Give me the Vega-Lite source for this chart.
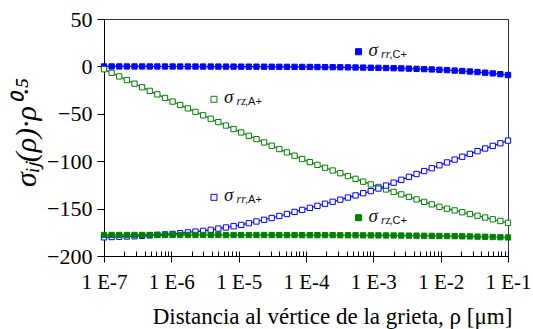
{
  "$schema": "https://vega.github.io/schema/vega-lite/v6.json",
  "width": 404,
  "height": 237,
  "autosize": "none",
  "padding": {"left": 104, "top": 19, "right": 25, "bottom": 73},
  "background": "white",
  "config": {
    "font": "Liberation Serif",
    "style": {"guide-label": {"font": "Liberation Serif"}, "guide-title": {"font": "Liberation Serif"}},
    "view": {"stroke": "#333333", "strokeWidth": 1},
    "axis": {
      "labelFont": "Liberation Serif",
      "titleFont": "Liberation Serif",
      "labelColor": "#000000",
      "titleColor": "#000000",
      "domainColor": "#000000",
      "tickColor": "#000000",
      "grid": false,
      "titleFontWeight": "normal"
    }
  },
  "datasets": {
    "curvas": [
      {"rho": 1e-7, "rr_C": -0.04, "rz_A": -3.0, "rr_A": -180.3, "rz_C": -177.8},
      {"rho": 1.298e-7, "rr_C": -0.04, "rz_A": -6.8, "rr_A": -180.0, "rz_C": -177.8},
      {"rho": 1.684e-7, "rr_C": -0.04, "rz_A": -10.6, "rr_A": -179.7, "rz_C": -177.8},
      {"rho": 2.186e-7, "rr_C": -0.05, "rz_A": -14.4, "rr_A": -179.45, "rz_C": -177.8},
      {"rho": 2.837e-7, "rr_C": -0.06, "rz_A": -18.2, "rr_A": -179.2, "rz_C": -177.8},
      {"rho": 3.681e-7, "rr_C": -0.06, "rz_A": -22.0, "rr_A": -178.75, "rz_C": -177.8},
      {"rho": 4.777e-7, "rr_C": -0.07, "rz_A": -25.8, "rr_A": -178.25, "rz_C": -177.8},
      {"rho": 6.202e-7, "rr_C": -0.08, "rz_A": -29.5, "rr_A": -177.7, "rz_C": -177.8},
      {"rho": 8.048e-7, "rr_C": -0.08, "rz_A": -33.3, "rr_A": -177.2, "rz_C": -177.8},
      {"rho": 1.0445e-6, "rr_C": -0.09, "rz_A": -37.1, "rr_A": -176.7, "rz_C": -177.8},
      {"rho": 1.3555e-6, "rr_C": -0.10, "rz_A": -40.7, "rr_A": -175.9, "rz_C": -177.8},
      {"rho": 1.7592e-6, "rr_C": -0.11, "rz_A": -44.3, "rr_A": -175.1, "rz_C": -177.8},
      {"rho": 2.283e-6, "rr_C": -0.13, "rz_A": -48.0, "rr_A": -174.3, "rz_C": -177.8},
      {"rho": 2.9628e-6, "rr_C": -0.14, "rz_A": -51.6, "rr_A": -173.5, "rz_C": -177.8},
      {"rho": 3.8451e-6, "rr_C": -0.16, "rz_A": -55.2, "rr_A": -172.4, "rz_C": -177.8},
      {"rho": 4.9898e-6, "rr_C": -0.17, "rz_A": -58.8, "rr_A": -171.1, "rz_C": -177.8},
      {"rho": 6.4764e-6, "rr_C": -0.19, "rz_A": -62.4, "rr_A": -169.9, "rz_C": -177.9},
      {"rho": 8.4044e-6, "rr_C": -0.21, "rz_A": -66.1, "rr_A": -168.6, "rz_C": -177.9},
      {"rho": 1.0907e-5, "rr_C": -0.24, "rz_A": -69.7, "rr_A": -167.2, "rz_C": -177.9},
      {"rho": 1.4155e-5, "rr_C": -0.26, "rz_A": -73.2, "rr_A": -165.4, "rz_C": -177.9},
      {"rho": 1.8374e-5, "rr_C": -0.29, "rz_A": -76.7, "rr_A": -163.6, "rz_C": -177.9},
      {"rho": 2.3846e-5, "rr_C": -0.32, "rz_A": -80.2, "rr_A": -161.8, "rz_C": -177.9},
      {"rho": 3.0945e-5, "rr_C": -0.36, "rz_A": -83.7, "rr_A": -159.95, "rz_C": -177.9},
      {"rho": 4.0162e-5, "rr_C": -0.40, "rz_A": -87.2, "rr_A": -157.8, "rz_C": -177.9},
      {"rho": 5.2119e-5, "rr_C": -0.44, "rz_A": -90.7, "rr_A": -155.7, "rz_C": -177.9},
      {"rho": 6.7639e-5, "rr_C": -0.49, "rz_A": -94.2, "rr_A": -153.5, "rz_C": -177.9},
      {"rho": 8.7779e-5, "rr_C": -0.54, "rz_A": -97.7, "rr_A": -151.4, "rz_C": -178.0},
      {"rho": 1.1392e-4, "rr_C": -0.60, "rz_A": -101.0, "rr_A": -149.2, "rz_C": -178.0},
      {"rho": 1.4784e-4, "rr_C": -0.67, "rz_A": -103.9, "rr_A": -147.1, "rz_C": -178.0},
      {"rho": 1.9186e-4, "rr_C": -0.74, "rz_A": -106.9, "rr_A": -144.9, "rz_C": -178.0},
      {"rho": 2.49e-4, "rr_C": -0.82, "rz_A": -109.8, "rr_A": -142.8, "rz_C": -178.0},
      {"rho": 3.2315e-4, "rr_C": -0.92, "rz_A": -112.7, "rr_A": -140.6, "rz_C": -178.1},
      {"rho": 4.1937e-4, "rr_C": -1.02, "rz_A": -115.7, "rr_A": -138.35, "rz_C": -178.1},
      {"rho": 5.4427e-4, "rr_C": -1.13, "rz_A": -118.6, "rr_A": -136.1, "rz_C": -178.1},
      {"rho": 7.0647e-4, "rr_C": -1.25, "rz_A": -121.6, "rr_A": -133.8, "rz_C": -178.2},
      {"rho": 9.1684e-4, "rr_C": -1.39, "rz_A": -124.5, "rr_A": -131.55, "rz_C": -178.2},
      {"rho": 1.1899e-3, "rr_C": -1.54, "rz_A": -127.2, "rr_A": -128.8, "rz_C": -178.25},
      {"rho": 1.5442e-3, "rr_C": -1.71, "rz_A": -129.8, "rr_A": -125.7, "rz_C": -178.3},
      {"rho": 2.004e-3, "rr_C": -1.90, "rz_A": -132.4, "rr_A": -122.65, "rz_C": -178.35},
      {"rho": 2.6007e-3, "rr_C": -2.11, "rz_A": -135.0, "rr_A": -119.6, "rz_C": -178.4},
      {"rho": 3.3752e-3, "rr_C": -2.34, "rz_A": -137.7, "rr_A": -116.5, "rz_C": -178.5},
      {"rho": 4.3803e-3, "rr_C": -2.59, "rz_A": -140.3, "rr_A": -113.5, "rz_C": -178.55},
      {"rho": 5.6847e-3, "rr_C": -2.88, "rz_A": -142.9, "rr_A": -110.4, "rz_C": -178.65},
      {"rho": 7.3774e-3, "rr_C": -3.20, "rz_A": -145.5, "rr_A": -107.4, "rz_C": -178.75},
      {"rho": 9.5742e-3, "rr_C": -3.55, "rz_A": -148.1, "rr_A": -104.3, "rz_C": -178.85},
      {"rho": 1.2425e-2, "rr_C": -3.94, "rz_A": -150.1, "rr_A": -101.3, "rz_C": -178.95},
      {"rho": 1.6125e-2, "rr_C": -4.37, "rz_A": -151.9, "rr_A": -98.3, "rz_C": -179.05},
      {"rho": 2.093e-2, "rr_C": -4.85, "rz_A": -153.8, "rr_A": -95.3, "rz_C": -179.2},
      {"rho": 2.7164e-2, "rr_C": -5.38, "rz_A": -155.7, "rr_A": -92.3, "rz_C": -179.35},
      {"rho": 3.5253e-2, "rr_C": -5.98, "rz_A": -157.5, "rr_A": -89.4, "rz_C": -179.55},
      {"rho": 4.5754e-2, "rr_C": -6.63, "rz_A": -159.4, "rr_A": -86.6, "rz_C": -179.7},
      {"rho": 5.9377e-2, "rr_C": -7.36, "rz_A": -161.3, "rr_A": -83.85, "rz_C": -179.95},
      {"rho": 7.7056e-2, "rr_C": -8.17, "rz_A": -163.1, "rr_A": -81.1, "rz_C": -180.2},
      {"rho": 0.1, "rr_C": -9.07, "rz_A": -165.0, "rr_A": -78.3, "rz_C": -180.4}
    ],
    "etiquetas": [
      {"rho": 6.03e-4, "valor": 15.5, "serie": "rr_C", "sub": "rr", "tag": ",C+"},
      {"rho": 4.3e-6, "valor": -34.7, "serie": "rz_A", "sub": "rz", "tag": ",A+"},
      {"rho": 4.3e-6, "valor": -138.1, "serie": "rr_A", "sub": "rr", "tag": ",A+"},
      {"rho": 6.03e-4, "valor": -159.6, "serie": "rz_C", "sub": "rz", "tag": ",C+"}
    ]
  },
  "layer": [
    {
      "data": {"name": "curvas"},
      "transform": [{"fold": ["rr_C", "rz_A", "rr_A", "rz_C"], "as": ["serie", "valor"]}],
      "mark": {"type": "line", "strokeWidth": 1.2, "opacity": 1},
      "encoding": {
        "x": {
          "field": "rho", "type": "quantitative",
          "scale": {"type": "log", "domain": [1e-7, 0.1], "nice": false},
          "axis": {
            "orient": "bottom",
            "values": [1e-7, 1e-6, 1e-5, 1e-4, 1e-3, 1e-2, 1e-1],
            "labelExpr": "'1 E' + round(log(datum.value) / LN10)",
            "tickSize": 6,
            "labelFont": "Liberation Serif",
            "labelFontSize": 21,
            "labelPadding": 9,
            "labelFlush": false,
            "labelOverlap": false,
            "title": "Distancia al vértice de la grieta, ρ [μm]",
            "titleFont": "Liberation Serif",
            "titleFontSize": 23,
            "titleX": 228,
            "titleY": 67,
            "titleAlign": "center",
            "titleBaseline": "alphabetic"
          }
        },
        "y": {
          "field": "valor", "type": "quantitative",
          "scale": {"domain": [-200, 50], "nice": false, "zero": false},
          "axis": {
            "values": [-200, -150, -100, -50, 0, 50],
            "tickSize": 7,
            "labelFont": "Liberation Serif",
            "labelFontSize": 22,
            "labelPadding": 5,
            "title": "σᵢⱼ(ρ)·ρ⁰·⁵",
            "titleFont": "Liberation Serif",
            "titleFontSize": 30,
            "titleFontStyle": "italic",
            "titleAngle": -90,
            "titleX": -69,
            "titleY": 113,
            "titleAlign": "center",
            "titleBaseline": "alphabetic"
          }
        },
        "color": {
          "field": "serie", "type": "nominal",
          "scale": {"domain": ["rr_C", "rz_A", "rr_A", "rz_C"], "range": ["#0000FF", "#008000", "#0000FF", "#008000"]},
          "legend": null
        }
      }
    },
    {
      "data": {"name": "curvas"},
      "transform": [{"fold": ["rr_C", "rz_A", "rr_A", "rz_C"], "as": ["serie", "valor"]}],
      "mark": {"type": "point", "shape": "square", "size": 28, "strokeWidth": 1, "opacity": 1},
      "encoding": {
        "x": {
          "field": "rho", "type": "quantitative",
          "scale": {"type": "log", "domain": [1e-7, 0.1], "nice": false},
          "axis": {
            "orient": "bottom",
            "values": [1e-7, 2e-7, 3e-7, 4e-7, 5e-7, 6e-7, 7e-7, 8e-7, 9e-7,
                       1e-6, 2e-6, 3e-6, 4e-6, 5e-6, 6e-6, 7e-6, 8e-6, 9e-6,
                       1e-5, 2e-5, 3e-5, 4e-5, 5e-5, 6e-5, 7e-5, 8e-5, 9e-5,
                       1e-4, 2e-4, 3e-4, 4e-4, 5e-4, 6e-4, 7e-4, 8e-4, 9e-4,
                       1e-3, 2e-3, 3e-3, 4e-3, 5e-3, 6e-3, 7e-3, 8e-3, 9e-3,
                       1e-2, 2e-2, 3e-2, 4e-2, 5e-2, 6e-2, 7e-2, 8e-2, 9e-2, 1e-1],
            "tickSize": -5,
            "labels": false,
            "domain": false,
            "title": null
          }
        },
        "y": {
          "field": "valor", "type": "quantitative",
          "scale": {"domain": [-200, 50], "nice": false, "zero": false}
        },
        "stroke": {
          "field": "serie", "type": "nominal",
          "scale": {"domain": ["rr_C", "rz_A", "rr_A", "rz_C"], "range": ["#0000FF", "#008000", "#0000FF", "#008000"]},
          "legend": null
        },
        "fill": {
          "field": "serie", "type": "nominal",
          "scale": {"domain": ["rr_C", "rz_A", "rr_A", "rz_C"], "range": ["#0000FF", "#FFFFFF", "#FFFFFF", "#008000"]},
          "legend": null
        }
      }
    },
    {
      "data": {"name": "etiquetas"},
      "mark": {"type": "point", "shape": "square", "size": 36, "strokeWidth": 1, "opacity": 1},
      "encoding": {
        "x": {"field": "rho", "type": "quantitative", "scale": {"type": "log", "domain": [1e-7, 0.1], "nice": false}, "axis": null},
        "y": {"field": "valor", "type": "quantitative", "scale": {"domain": [-200, 50], "nice": false, "zero": false}},
        "stroke": {"field": "serie", "type": "nominal", "legend": null},
        "fill": {"field": "serie", "type": "nominal", "legend": null}
      }
    },
    {
      "data": {"name": "etiquetas"},
      "mark": {"type": "text", "text": "σ", "align": "left", "baseline": "alphabetic", "dx": 10, "dy": 3.8,
               "font": "Liberation Serif", "fontSize": 19, "fontStyle": "italic", "fill": "#111111"},
      "encoding": {
        "x": {"field": "rho", "type": "quantitative", "scale": {"type": "log", "domain": [1e-7, 0.1], "nice": false}, "axis": null},
        "y": {"field": "valor", "type": "quantitative", "scale": {"domain": [-200, 50], "nice": false, "zero": false}}
      }
    },
    {
      "data": {"name": "etiquetas"},
      "mark": {"type": "text", "align": "left", "baseline": "alphabetic", "dx": 22.5, "dy": 6,
               "font": "Liberation Serif", "fontSize": 12, "fontStyle": "italic", "fill": "#111111"},
      "encoding": {
        "x": {"field": "rho", "type": "quantitative", "scale": {"type": "log", "domain": [1e-7, 0.1], "nice": false}, "axis": null},
        "y": {"field": "valor", "type": "quantitative", "scale": {"domain": [-200, 50], "nice": false, "zero": false}},
        "text": {"field": "sub"}
      }
    },
    {
      "data": {"name": "etiquetas"},
      "mark": {"type": "text", "align": "left", "baseline": "alphabetic", "dx": 31, "dy": 6,
               "font": "Liberation Sans", "fontSize": 11, "fill": "#111111"},
      "encoding": {
        "x": {"field": "rho", "type": "quantitative", "scale": {"type": "log", "domain": [1e-7, 0.1], "nice": false}, "axis": null},
        "y": {"field": "valor", "type": "quantitative", "scale": {"domain": [-200, 50], "nice": false, "zero": false}},
        "text": {"field": "tag"}
      }
    }
  ],
  "resolve": {"axis": {"x": "independent"}}
}
